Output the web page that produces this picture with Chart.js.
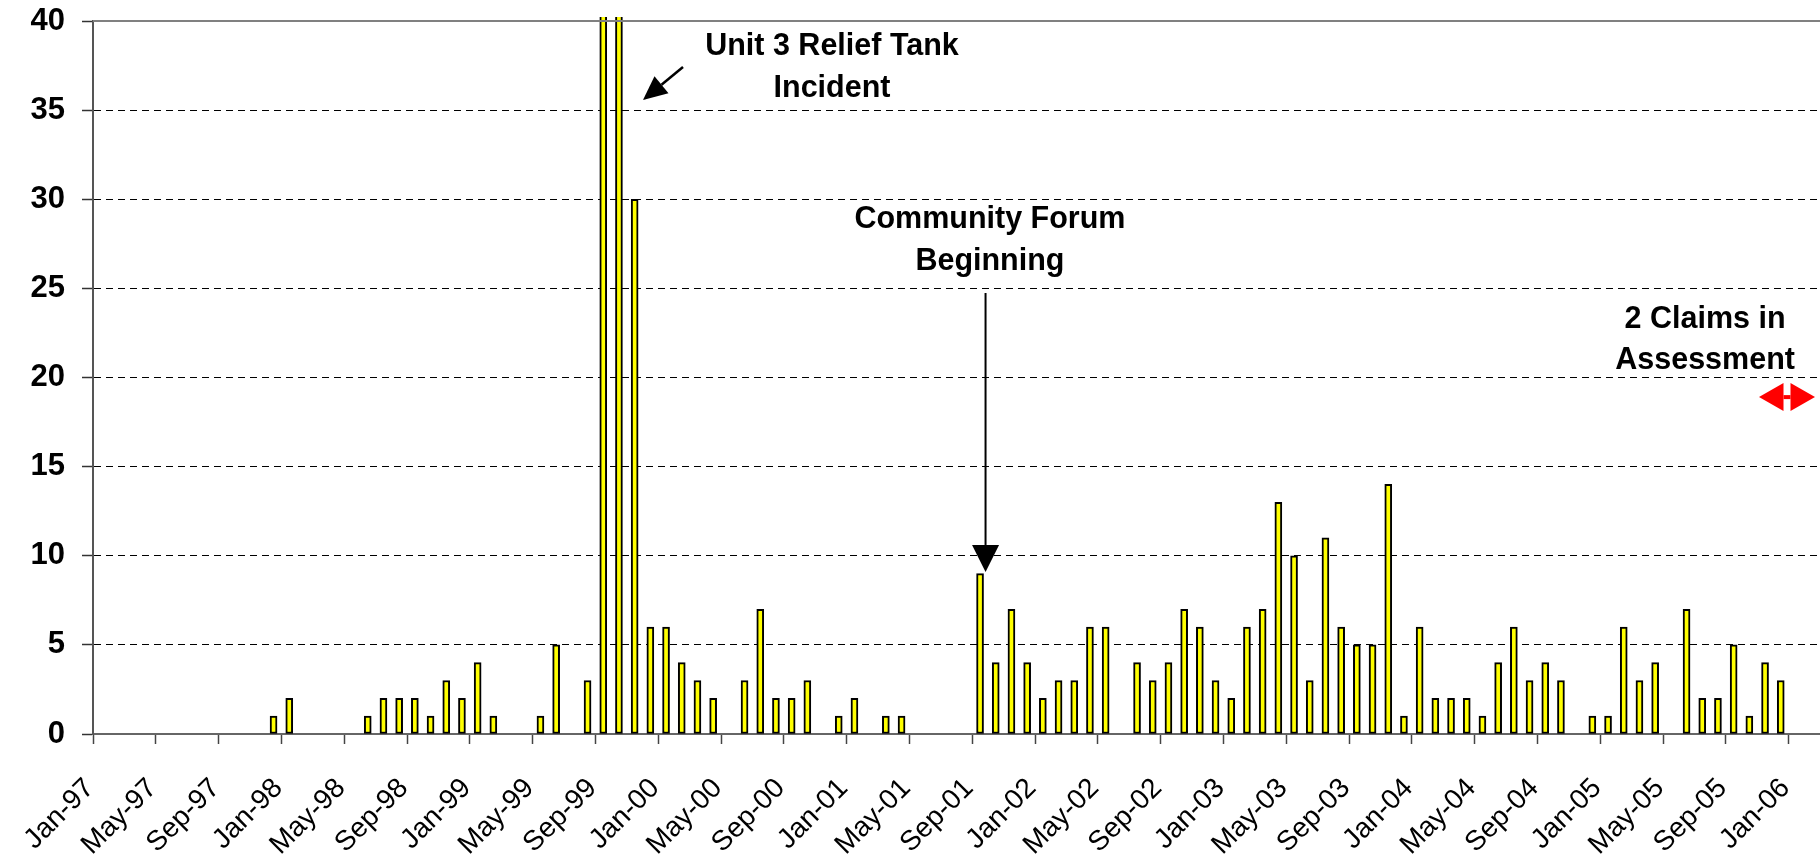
<!DOCTYPE html>
<html><head><meta charset="utf-8">
<script src="https://cdn.jsdelivr.net/npm/chart.js@4.4.1/dist/chart.umd.min.js"></script>
<style>html,body{margin:0;padding:0;background:#fff;overflow:hidden}canvas{display:block}</style>
</head><body>
<canvas id="c" width="1820" height="860"></canvas>
<script>
// ---- categories (monthly, Jan-97 .. Feb-06) ----
const monthNames = ['Jan','Feb','Mar','Apr','May','Jun','Jul','Aug','Sep','Oct','Nov','Dec'];
const yearSuffixes = ['97','98','99','00','01','02','03','04','05','06'];
const categories = [];
yearSuffixes.forEach(y => monthNames.forEach(m => categories.push(m + '-' + y)));
categories.length = 110;

// ---- monthly claims (off-scale months estimated) ----
const claims1997 = [0,0,0,0,0,0,0,0,0,0,0,1];
const claims1998 = [2,0,0,0,0,1,2,2,2,1,3,2];
const claims1999 = [4,1,0,0,1,5,0,3,45,45,30,6];
const claims2000 = [6,4,3,2,0,3,7,2,2,3,0,1];
const claims2001 = [2,0,1,1,0,0,0,0,9,4,7,4];
const claims2002 = [2,3,3,6,6,0,4,3,4,7,6,3];
const claims2003 = [2,6,7,13,10,3,11,6,5,5,14,1];
const claims2004 = [6,2,2,2,1,4,6,3,4,3,0,1];
const claims2005 = [1,6,3,4,0,7,2,2,5,1,4,3];
const claims2006 = [0,0];
const claims = [].concat(claims1997, claims1998, claims1999, claims2000, claims2001,
  claims2002, claims2003, claims2004, claims2005, claims2006);

const yTickValues = [0,5,10,15,20,25,30,35,40];

// ---- annotations (in data units: category index, value) ----
const noteIncident = {lines: ['Unit 3 Relief Tank', 'Incident'], at: 46.57, baselines: [38.09, 35.74]};
const arrowIncident = {from: [37.08, 37.42], to: [34.53, 35.57]};
const noteForum = {lines: ['Community Forum', 'Beginning'], at: 56.63, baselines: [28.39, 26.03]};
const arrowForum = {from: [56.35, 24.74], to: [56.35, 9.09]};
const noteClaims = {lines: ['2 Claims in', 'Assessment'], at: 102.18, baselines: [22.75, 20.5]};
const markClaims = {at: 107.4, value: 18.9};

Chart.defaults.font.family = '"Liberation Sans", Arial, sans-serif';
Chart.defaults.color = '#000';

function drawArrow(ctx, x1, y1, x2, y2, headLen, headHalf, width) {
  const ang = Math.atan2(y2 - y1, x2 - x1);
  const bx = x2 - headLen * Math.cos(ang), by = y2 - headLen * Math.sin(ang);
  ctx.lineWidth = width;
  ctx.beginPath(); ctx.moveTo(x1, y1); ctx.lineTo(bx, by); ctx.stroke();
  ctx.beginPath(); ctx.moveTo(x2, y2);
  ctx.lineTo(bx + headHalf * Math.sin(ang), by - headHalf * Math.cos(ang));
  ctx.lineTo(bx - headHalf * Math.sin(ang), by + headHalf * Math.cos(ang));
  ctx.closePath(); ctx.fill();
}

const annotPlugin = {
  id: 'annot',
  afterDatasetsDraw(chart) {
    const {ctx, chartArea: a, scales: {x, y}} = chart;
    ctx.save();
    ctx.strokeStyle = '#808080'; ctx.lineWidth = 2;
    ctx.beginPath(); ctx.moveTo(a.left, a.top); ctx.lineTo(a.right, a.top); ctx.stroke();

    ctx.fillStyle = '#000'; ctx.strokeStyle = '#000';
    ctx.font = 'bold 30.5px "Liberation Sans", Arial, sans-serif';
    ctx.textAlign = 'center'; ctx.textBaseline = 'alphabetic';
    [noteIncident, noteForum, noteClaims].forEach(n => {
      n.lines.forEach((t, i) => ctx.fillText(t, x.getPixelForValue(n.at), y.getPixelForValue(n.baselines[i])));
    });
    drawArrow(ctx, x.getPixelForValue(arrowIncident.from[0]), y.getPixelForValue(arrowIncident.from[1]),
      x.getPixelForValue(arrowIncident.to[0]), y.getPixelForValue(arrowIncident.to[1]), 24, 11, 2.5);
    drawArrow(ctx, x.getPixelForValue(arrowForum.from[0]), y.getPixelForValue(arrowForum.from[1]),
      x.getPixelForValue(arrowForum.to[0]), y.getPixelForValue(arrowForum.to[1]), 27, 13.5, 2);

    // red double arrow marker
    const cx = x.getPixelForValue(markClaims.at), cy = y.getPixelForValue(markClaims.value);
    ctx.fillStyle = '#FF0000';
    ctx.beginPath(); ctx.moveTo(cx - 28, cy); ctx.lineTo(cx - 3.5, cy - 14); ctx.lineTo(cx - 3.5, cy + 14); ctx.closePath(); ctx.fill();
    ctx.beginPath(); ctx.moveTo(cx + 28, cy); ctx.lineTo(cx + 3.5, cy - 14); ctx.lineTo(cx + 3.5, cy + 14); ctx.closePath(); ctx.fill();
    ctx.fillRect(cx - 3.5, cy - 2, 7, 4);
    ctx.restore();
  }
};

new Chart(document.getElementById('c'), {
  type: 'bar',
  data: {
    labels: categories,
    datasets: [{
      data: claims,
      backgroundColor: '#FFFF00',
      borderColor: '#000000',
      borderWidth: 2,
      borderSkipped: false,
      barThickness: 7,
      clip: {left: 0, top: 4, right: 0, bottom: 0}
    }]
  },
  options: {
    responsive: false,
    animation: false,
    devicePixelRatio: 1,
    layout: {padding: {top: 21, left: 0, right: 0, bottom: 0}},
    plugins: {legend: {display: false}, tooltip: {enabled: false}},
    scales: {
      x: {
        offset: true,
        grid: {
          offset: true, drawOnChartArea: false, tickLength: 10, tickWidth: 1.5,
          tickColor: c => (c.index % 4 === 0 ? '#444444' : 'rgba(0,0,0,0)')
        },
        border: {color: '#666666', width: 2},
        ticks: {
          autoSkip: false, maxRotation: 45, minRotation: 45, padding: 28, labelOffset: -11,
          font: {size: 28},
          callback: (v, i) => (i % 4 === 0 ? categories[i] : '')
        },
        afterFit: s => { s.height = 126; s.paddingLeft = 0; s.paddingRight = 0; }
      },
      y: {
        min: 0, max: 40,
        afterBuildTicks: s => { s.ticks = yTickValues.map(v => ({value: v})); },
        grid: {
          color: c => (c.tick && (c.tick.value === 0 || c.tick.value === 40) ? 'rgba(0,0,0,0)' : '#000000'),
          lineWidth: 1, tickLength: 11, tickWidth: 1.5, tickColor: '#333333'
        },
        border: {color: '#555555', width: 2, dash: [7, 5]},
        ticks: {padding: 17, font: {size: 31, weight: 'bold'}},
        afterFit: s => { s.width = 93; s.paddingTop = 0; s.paddingBottom = 0; }
      }
    }
  },
  plugins: [annotPlugin]
});
</script>
</body></html>
